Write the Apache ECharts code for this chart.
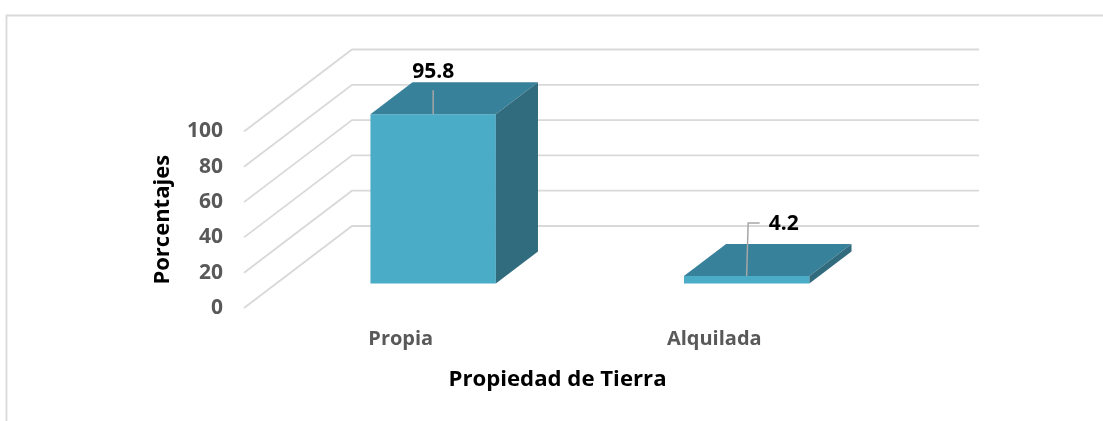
<!DOCTYPE html>
<html>
<head>
<meta charset="utf-8">
<style>
  html, body { margin: 0; padding: 0; background: #fff; }
  #myChart { width: 1103px; height: 421px; }
</style>
<script src="https://cdn.jsdelivr.net/npm/echarts@6/dist/echarts.min.js"></script>
</head>
<body>
<div id="myChart"></div>
<script>
  var categories = ['Propia', 'Alquilada']
  var percentValues = [95.8, 4.2]
  var yTicks = [0, 20, 40, 60, 80, 100]

  var FONT = '"Open Sans", sans-serif'
  // profundidad de la caja 3D en pixeles
  var WALL_DX = 108
  var WALL_DY = -82
  var BAR_FRONT = 0.3 // la barra empieza a este % de la profundidad
  var BAR_DEPTH = 0.39

  var labelLayout = [
    { leader: [[0, 0], [0, -24]], tx: 0, ty: -42 },
    { leader: [[0, 0], [1.5, -53], [13, -53]], tx: 37, ty: -52 }
  ]

  function renderWall(params, api) {
    var y = api.coord([0, api.value(1)])[1]
    var x0 = params.coordSys.x
    var x1 = x0 + params.coordSys.width
    return {
      type: 'polyline',
      shape: {
        points: [[x0, y], [x0 + WALL_DX, y + WALL_DY], [x1 + WALL_DX, y + WALL_DY]]
      },
      style: { fill: null, stroke: '#d9d9d9', lineWidth: 1.8 }
    }
  }

  function renderBar(params, api) {
    var idx = api.value(0)
    var base = api.coord([idx, 0])
    var top = api.coord([idx, api.value(1)])
    var w = api.size([1, 0])[0] * 0.4
    var fx = WALL_DX * BAR_FRONT
    var fy = WALL_DY * BAR_FRONT
    var dx = WALL_DX * BAR_DEPTH
    var dy = WALL_DY * BAR_DEPTH
    var l = base[0] + fx - w / 2
    var r = l + w
    var yb = base[1] + fy
    var yt = top[1] + fy
    var mid = l + w / 2
    var lay = labelLayout[params.dataIndex]
    var leader = lay.leader.map(function (p) { return [mid + p[0], yt + p[1]] })
    return {
      type: 'group',
      children: [
        { type: 'polygon', shape: { points: [[l, yb], [r, yb], [r, yt], [l, yt]] }, style: { fill: '#4aacc6' } },
        { type: 'polygon', shape: { points: [[l, yt], [r, yt], [r + dx, yt + dy], [l + dx, yt + dy]] }, style: { fill: '#38819a' } },
        { type: 'polygon', shape: { points: [[r, yb], [r + dx, yb + dy], [r + dx, yt + dy], [r, yt]] }, style: { fill: '#316c7e' } },
        { type: 'polyline', shape: { points: leader }, style: { fill: null, stroke: '#a6a6a6', lineWidth: 1.5 } },
        {
          type: 'text',
          style: {
            x: mid + lay.tx,
            y: yt + lay.ty,
            text: api.value(1).toFixed(1),
            align: 'center',
            verticalAlign: 'middle',
            fill: '#000',
            font: 'bold 21px ' + FONT
          }
        }
      ]
    }
  }

  var myChart = echarts.init(document.getElementById('myChart'))
  var option = {
    animation: false,
    backgroundColor: '#fff',
    textStyle: { fontFamily: FONT },
    grid: { left: 244, top: 131.5, width: 627, height: 176.5 },
    graphic: [{
      type: 'polyline',
      silent: true,
      shape: { points: [[6.5, 421], [6.5, 15.5], [1103, 15.5]] },
      style: { fill: null, stroke: '#d9d9d9', lineWidth: 1.8 }
    }],
    xAxis: {
      type: 'category',
      data: categories,
      name: 'Propiedad de Tierra',
      nameLocation: 'middle',
      nameGap: 72,
      nameTextStyle: { color: '#000', fontWeight: 'bold', fontSize: 22.2, fontFamily: FONT, verticalAlign: 'middle' },
      axisLine: { show: false },
      axisTick: { show: false },
      axisLabel: { color: '#595959', fontWeight: 'bold', fontSize: 20, margin: 21, fontFamily: FONT }
    },
    yAxis: {
      type: 'value',
      min: 0,
      max: 100,
      interval: 20,
      name: 'Porcentajes',
      nameLocation: 'middle',
      nameGap: 81,
      nameTextStyle: { color: '#000', fontWeight: 'bold', fontSize: 22, fontFamily: FONT, verticalAlign: 'middle' },
      splitLine: { show: false },
      axisLine: { show: false },
      axisTick: { show: false },
      axisLabel: { color: '#595959', fontWeight: 'bold', fontSize: 21, margin: 21, padding: [5, 0, 0, 0], fontFamily: FONT }
    },
    series: [
      {
        type: 'custom',
        coordinateSystem: 'cartesian2d',
        silent: true,
        clip: false,
        z: 1,
        renderItem: renderWall,
        data: yTicks.map(function (t) { return [0, t] })
      },
      {
        type: 'custom',
        coordinateSystem: 'cartesian2d',
        clip: false,
        z: 2,
        renderItem: renderBar,
        data: percentValues.map(function (v, i) { return [i, v] })
      }
    ]
  }
  myChart.setOption(option)
</script>
</body>
</html>
